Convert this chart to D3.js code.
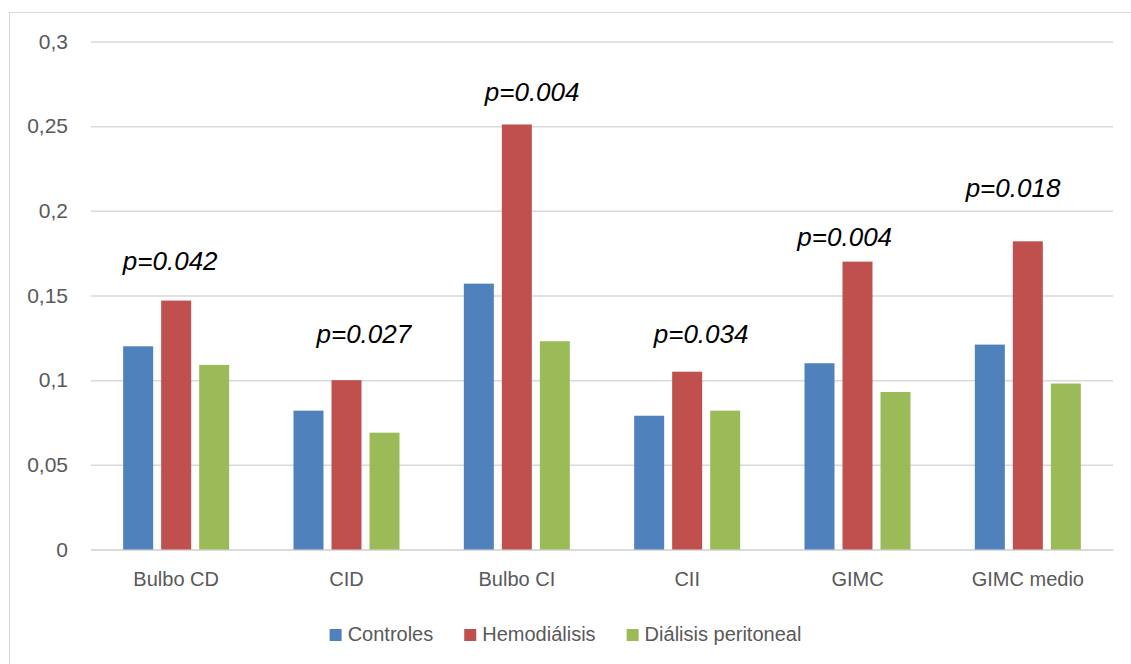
<!DOCTYPE html>
<html>
<head>
<meta charset="utf-8">
<script src="https://cdn.jsdelivr.net/npm/d3@7"></script>
<style>
  html, body { margin: 0; padding: 0; background: #fff; }
  svg { display: block; font-family: "Liberation Sans", Arial, sans-serif; }
</style>
</head>
<body>
<svg id="chart" width="1131" height="664"></svg>
<script>
// Grosor medio por segmento carotídeo y grupo
const categories = ["Bulbo CD", "CID", "Bulbo CI", "CII", "GIMC", "GIMC medio"];
const seriesNames = ["Controles", "Hemodiálisis", "Diálisis peritoneal"];
const controles = [0.120, 0.082, 0.157, 0.079, 0.110, 0.121];
const hemodialisis = [0.147, 0.100, 0.251, 0.105, 0.170, 0.182];
const dialisisPeritoneal = [0.109, 0.069, 0.123, 0.082, 0.093, 0.098];
const pValues = ["p=0.042", "p=0.027", "p=0.004", "p=0.034", "p=0.004", "p=0.018"];
const yTicks = [0, 0.05, 0.1, 0.15, 0.2, 0.25, 0.3];

// Placement of the p-value annotations: [shift within band, height in axis units]
const pLabelPlacement = [
  [-0.035, 0.165], [0.102, 0.122], [0.090, 0.265],
  [0.082, 0.122], [-0.075, 0.1795], [-0.087, 0.2083]
];

const colors = ["#4F81BD", "#C0504D", "#9BBB59"];
const series = [controles, hemodialisis, dialisisPeritoneal];

const svg = d3.select("#chart");
const plot = { left: 91, right: 1113, top: 41.5, bottom: 549.5 };

// Outer frame of the chart area
svg.append("rect")
  .attr("x", 9.5).attr("y", 12.5)
  .attr("width", 1140).attr("height", 670)
  .attr("fill", "none").attr("stroke", "#D9D9D9").attr("stroke-width", 1);

const x = d3.scaleBand().domain(categories).range([plot.left, plot.right]).padding(0);
const y = d3.scaleLinear().domain([0, 0.3]).range([plot.bottom, plot.top]);

const fmt = v => String(+v.toFixed(2)).replace(".", ",");

// Horizontal gridlines with value labels
const yAxis = d3.axisLeft(y).tickValues(yTicks).tickFormat(fmt)
  .tickSize(-(plot.right - plot.left)).tickPadding(23);
const gy = svg.append("g").attr("transform", `translate(${plot.left},0)`).call(yAxis);
gy.select(".domain").remove();
gy.selectAll(".tick line").attr("stroke", "#D9D9D9").attr("stroke-width", 1.5);
gy.selectAll(".tick text")
  .attr("fill", "#595959").style("font-size", "21px");

// Category axis
const xAxis = d3.axisBottom(x).tickSize(0).tickPadding(22);
const gx = svg.append("g").attr("transform", `translate(0,${plot.bottom})`).call(xAxis);
gx.select(".domain").attr("stroke", "#D9D9D9").attr("stroke-width", 1.5);
gx.selectAll(".tick text").attr("fill", "#595959").style("font-size", "20px");

// Clustered bars
const barW = 30, barGap = 8;
const inner = d3.scaleBand().domain(d3.range(series.length))
  .range([0, barW * 3 + barGap * 2]).paddingInner(barGap / (barW + barGap));
const groupOffset = (x.bandwidth() - (barW * 3 + barGap * 2)) / 2;

series.forEach((vals, si) => {
  svg.append("g").selectAll("rect")
    .data(vals)
    .join("rect")
    .attr("x", (d, i) => x(categories[i]) + groupOffset + inner(si))
    .attr("y", d => y(d))
    .attr("width", inner.bandwidth())
    .attr("height", d => y(0) - y(d))
    .attr("fill", colors[si]);
});

// p-value annotations
svg.append("g").selectAll("text")
  .data(pValues)
  .join("text")
  .attr("x", (d, i) => x(categories[i]) + x.bandwidth() * (0.5 + pLabelPlacement[i][0]))
  .attr("y", (d, i) => y(pLabelPlacement[i][1]))
  .attr("text-anchor", "middle")
  .attr("fill", "#000")
  .style("font-size", "26px")
  .style("font-style", "italic")
  .text(d => d);

// Legend, centred under the chart
const legend = svg.append("g");
const items = legend.selectAll("g").data(seriesNames).join("g");
items.append("rect").attr("width", 12).attr("height", 12).attr("y", -12)
  .attr("fill", (d, i) => colors[i]);
items.append("text").attr("x", 18).attr("y", 0)
  .attr("fill", "#595959").style("font-size", "20px").text(d => d);
let cx = 0;
items.each(function () {
  const g = d3.select(this);
  g.attr("transform", `translate(${cx},0)`);
  cx += 18 + g.select("text").node().getComputedTextLength() + 31;
});
const legendW = cx - 31;
legend.attr("transform", `translate(${565.5 - legendW / 2},641)`);
</script>
</body>
</html>
